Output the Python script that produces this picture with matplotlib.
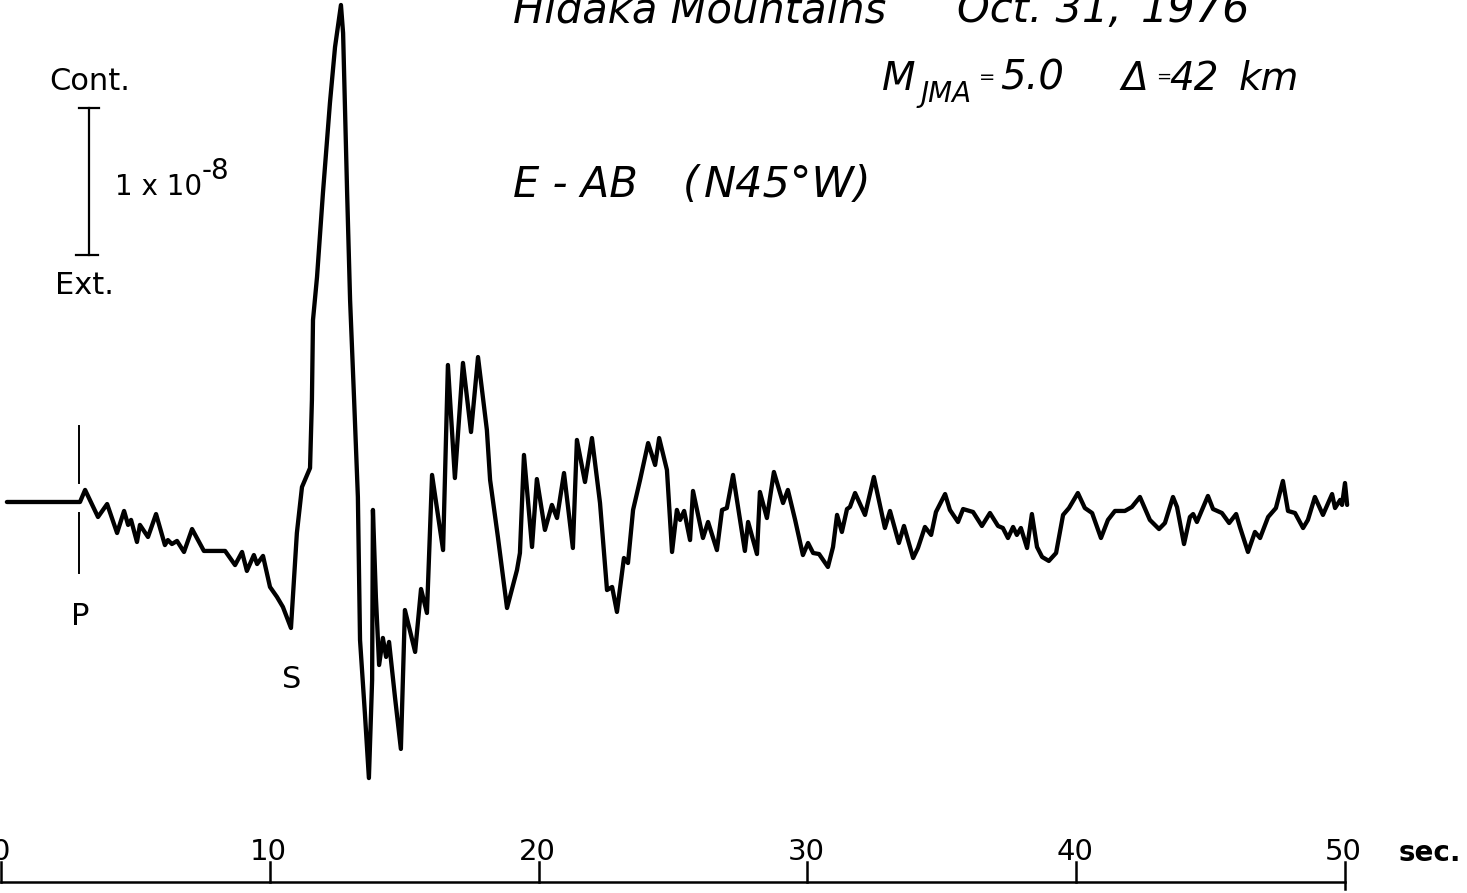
import matplotlib
matplotlib.use("Agg")
import matplotlib.pyplot as plt

# Strain record, E-AB component (N45W); time in seconds, strain in units of 1e-9
time_s = [0.21, 2.93, 3.12, 3.60, 3.94, 4.31, 4.57, 4.72, 4.83, 5.05, 5.16, 5.46, 5.76, 6.09,
          6.20, 6.35, 6.54, 6.80, 7.10, 7.54, 7.88, 8.33, 8.70, 8.96, 9.14, 9.40, 9.52, 9.74,
          10.00, 10.26, 10.48, 10.78, 11.00, 11.19, 11.49, 11.56, 11.60, 11.75, 11.97, 12.23,
          12.42, 12.64, 12.72, 12.87, 12.98, 13.13, 13.27, 13.35, 13.53, 13.68, 13.80, 13.83,
          13.94, 14.06, 14.20, 14.32, 14.43, 14.65, 14.87, 15.02, 15.40, 15.62, 15.84, 16.03,
          16.44, 16.62, 16.88, 17.18, 17.48, 17.74, 18.07, 18.19, 18.48, 18.82, 19.19, 19.30,
          19.45, 19.75, 19.93, 20.23, 20.49, 20.68, 20.94, 21.27, 21.42, 21.72, 21.98, 22.28,
          22.54, 22.73, 22.91, 23.17, 23.32, 23.51, 23.77, 24.07, 24.33, 24.48, 24.77, 24.96,
          25.14, 25.26, 25.41, 25.63, 25.74, 26.11, 26.30, 26.63, 26.82, 27.00, 27.23, 27.67,
          27.79, 28.12, 28.23, 28.49, 28.75, 29.09, 29.27, 29.54, 29.83, 30.02, 30.21, 30.43,
          30.76, 30.95, 31.10, 31.28, 31.47, 31.58, 31.77, 32.14, 32.47, 32.88, 33.07, 33.40,
          33.59, 33.93, 34.11, 34.37, 34.60, 34.78, 35.12, 35.30, 35.60, 35.79, 36.16, 36.49,
          36.79, 37.09, 37.27, 37.46, 37.65, 37.79, 37.94, 38.17, 38.35, 38.54, 38.73, 38.98,
          39.25, 39.51, 39.73, 40.06, 40.32, 40.59, 40.92, 41.18, 41.44, 41.81, 42.07, 42.37,
          42.74, 43.08, 43.30, 43.60, 43.75, 44.01, 44.23, 44.35, 44.49, 44.90, 45.09, 45.42,
          45.69, 45.95, 46.09, 46.39, 46.65, 46.84, 47.14, 47.43, 47.69, 47.88, 48.14, 48.44,
          48.62, 48.88, 49.18, 49.52, 49.63, 49.82, 49.89, 50.00, 50.08]
strain = [0.00, 0.00, 0.82, -1.02, -0.14, -2.11, -0.61, -1.56, -1.22, -2.72, -1.56, -2.38, -0.82, -2.93,
          -2.59, -2.86, -2.65, -3.40, -1.84, -3.33, -3.33, -3.33, -4.29, -3.40, -4.69, -3.61, -4.22, -3.67,
          -5.78, -6.46, -7.14, -8.57, -2.11, 1.02, 2.31, 6.94, 12.38, 15.31, 21.02, 27.14,
          30.95, 33.81, 31.90, 21.02, 13.74, 6.94, 0.34, -9.39, -14.35, -18.78, -12.11, -0.54,
          -6.46, -11.09, -9.25, -10.54, -9.52, -13.27, -16.80, -7.35, -10.20, -5.92, -7.55, 1.84,
          -3.27, 9.32, 1.63, 9.46, 4.76, 9.86, 4.90, 1.50, -2.38, -7.21, -4.63, -3.47,
          3.20, -3.06, 1.56, -1.90, -0.20, -1.09, 1.97, -3.13, 4.22, 1.36, 4.35, -0.07,
          -5.99, -5.78, -7.48, -3.81, -4.15, -0.54, 1.50, 4.01, 2.52, 4.35, 2.18, -3.40,
          -0.54, -1.22, -0.61, -2.59, 0.75, -2.45, -1.36, -3.27, -0.54, -0.41, 1.84, -3.33,
          -1.36, -3.54, 0.68, -1.09, 2.04, -0.07, 0.82, -1.22, -3.61, -2.79, -3.47, -3.54,
          -4.42, -3.06, -0.88, -2.04, -0.48, -0.34, 0.61, -0.88, 1.70, -1.77, -0.61, -2.79,
          -1.63, -3.81, -3.13, -1.70, -2.24, -0.68, 0.54, -0.54, -1.36, -0.48, -0.68, -1.63,
          -0.75, -1.63, -1.77, -2.45, -1.70, -2.24, -1.77, -3.13, -0.82, -3.06, -3.74, -4.01,
          -3.47, -0.88, -0.41, 0.61, -0.41, -0.75, -2.45, -1.22, -0.61, -0.61, -0.34, 0.34,
          -1.22, -1.84, -1.43, 0.34, -0.34, -2.86, -1.02, -0.82, -1.36, 0.41, -0.48, -0.75,
          -1.43, -0.82, -1.70, -3.40, -2.04, -2.45, -1.02, -0.41, 1.43, -0.61, -0.75, -1.77,
          -1.22, 0.34, -0.88, 0.54, -0.41, 0.14, -0.20, 1.29, -0.20]

p_arrival = 2.89
s_arrival = 10.78
tick_seconds = [0, 10, 20, 30, 40, 50]
tick_labels = ["0", "10", "20", "30", "40", "50"]
scale_bar = 10.0  # 1 x 10^-8 expressed in units of 1e-9

fig = plt.figure(figsize=(14.67, 8.93), dpi=100)
ax = fig.add_axes([0, 0, 1, 1])
ax.set_xlim(-0.0465, 54.54)
ax.set_ylim(-26.6, 34.15)
ax.axis("off")

# trace
ax.plot(time_s, strain, color="black", lw=3.1, solid_joinstyle="round",
        solid_capstyle="round")

upright = dict(family="DejaVu Sans", color="black")
italic = dict(family="DejaVu Sans", style="italic", color="black")

# P and S arrivals
ax.plot([p_arrival, p_arrival], [5.2, 1.3], color="black", lw=1.4)
ax.plot([p_arrival, p_arrival], [-0.75, -4.8], color="black", lw=1.4)
ax.text(p_arrival + 0.04, -7.8, "P", fontsize=22, ha="center", va="center", **upright)
ax.text(s_arrival + 0.04, -12.1, "S", fontsize=22, ha="center", va="center", **upright)

# strain scale bar
bx = 3.27
top = 26.8
ax.plot([bx, bx], [top, top - scale_bar], color="black", lw=1.6)
ax.plot([bx - 0.36, bx + 0.38], [top, top], color="black", lw=1.6)
ax.plot([bx - 0.50, bx + 0.32], [top - scale_bar, top - scale_bar], color="black", lw=1.6)
ax.text(3.30, 28.6, "Cont.", fontsize=22, ha="center", va="center", **upright)
ax.text(3.10, 14.7, "Ext.", fontsize=22, ha="center", va="center", **upright)
ax.text(4.23, 20.9, "1 x 10", fontsize=20, ha="left", va="baseline", **upright)
ax.text(7.45, 22.0, "-8", fontsize=20, ha="left", va="baseline", **upright)

# time axis bracket
ya = -25.85
ax.plot([tick_seconds[0], tick_seconds[-1]], [ya, ya], color="black", lw=1.8)
for t, lab in zip(tick_seconds, tick_labels):
    lo = ya - 0.5 if t == tick_seconds[-1] else ya
    ax.plot([t, t], [lo, -24.5], color="black", lw=1.8)
    ax.text(t - 0.05, -23.8, lab, fontsize=21, ha="center", va="center", **upright)
ax.text(52.0, -23.85, "sec.", fontsize=20, ha="left", va="center",
        fontweight="bold", **upright)

# headings
ax.text(19.04, 32.65, "Hidaka Mountains", fontsize=30, ha="left", va="baseline", **italic)
ax.text(35.56, 32.65, "Oct. 31,", fontsize=30, ha="left", va="baseline", **italic)
ax.text(42.40, 32.65, "1976", fontsize=31, ha="left", va="baseline", **italic)
ax.text(32.77, 28.03, "M", fontsize=28, ha="left", va="baseline", **italic)
ax.text(34.19, 27.2, "JMA", fontsize=20, ha="left", va="baseline", **italic)
ax.text(36.38, 28.9, "=", fontsize=14, ha="left", va="center", **italic)
ax.text(37.16, 28.03, "5.0", fontsize=29, ha="left", va="baseline", **italic)
ax.text(41.70, 28.03, "\u0394", fontsize=28, ha="left", va="baseline", **italic)
ax.text(42.98, 28.9, "=", fontsize=13, ha="left", va="center", **italic)
ax.text(43.45, 28.03, "42", fontsize=28, ha="left", va="baseline", **italic)
ax.text(46.05, 28.03, "km", fontsize=28, ha="left", va="baseline", **italic)
ax.text(19.04, 20.75, "E - AB", fontsize=30, ha="left", va="baseline", **italic)
ax.text(25.37, 20.75, "(", fontsize=30, ha="left", va="baseline", **italic)
ax.text(26.15, 20.75, "N45\u00b0W)", fontsize=31, ha="left", va="baseline", **italic)

fig.savefig("out.png", dpi=100, facecolor="white")
